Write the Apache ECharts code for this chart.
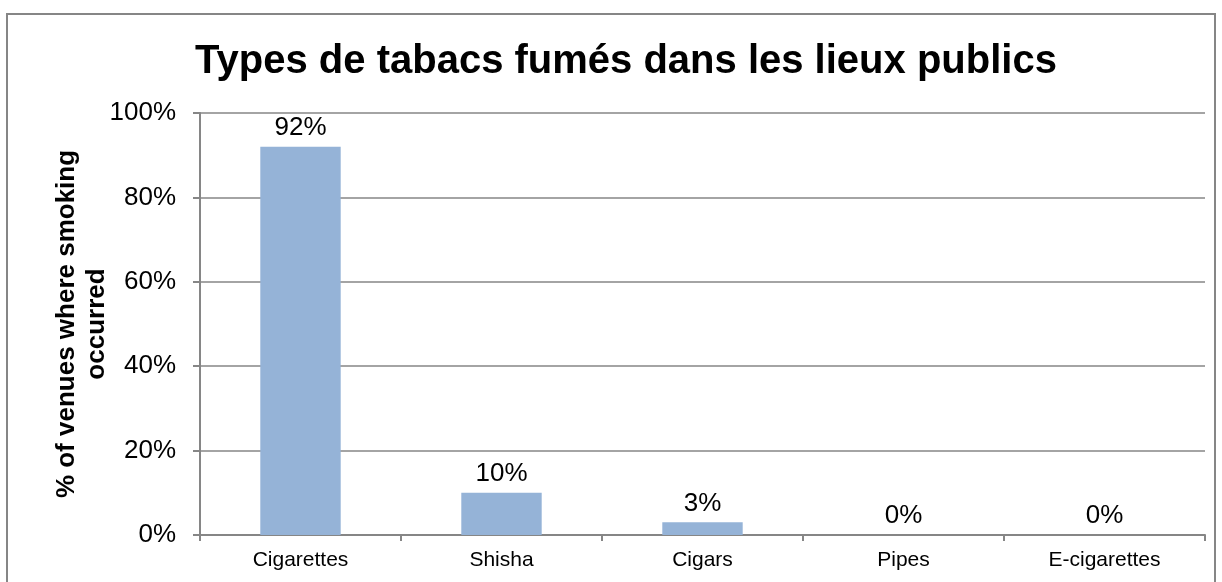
<!DOCTYPE html>
<html>
<head>
<meta charset="utf-8">
<script src="https://cdn.jsdelivr.net/npm/echarts@6/dist/echarts.min.js"></script>
<style>
  html, body { margin: 0; padding: 0; background: #fff; }
  #chart { width: 1222px; height: 582px; }
</style>
</head>
<body>
<div id="chart"></div>
<script>
const categories = ['Cigarettes', 'Shisha', 'Cigars', 'Pipes', 'E-cigarettes']
const venuePct = [92, 10, 3, 0, 0]
const yTicks = [0, 20, 40, 60, 80, 100]

const chart = echarts.init(document.getElementById('chart'))

const option = {
  animation: false,
  title: {
    text: 'Types de tabacs fumés dans les lieux publics',
    left: 621,
    top: 37,
    textAlign: 'center',
    textStyle: {
      fontFamily: 'Liberation Sans, Arial, sans-serif',
      fontSize: 40,
      fontWeight: 'bold',
      color: '#000'
    }
  },
  graphic: [{
    type: 'rect',
    shape: { x: 7, y: 14, width: 1208, height: 600 },
    style: { fill: 'none', stroke: '#868686', lineWidth: 2 },
    silent: true
  }],
  grid: {
    left: 200,
    right: 17,
    top: 113,
    bottom: 47
  },
  xAxis: {
    type: 'category',
    data: categories,
    axisLine: { lineStyle: { color: '#868686', width: 2 } },
    axisTick: { show: true, length: 6, alignWithLabel: false, lineStyle: { color: '#868686', width: 2 } },
    axisLabel: {
      color: '#000',
      fontFamily: 'Liberation Sans, Arial, sans-serif',
      fontSize: 21,
      margin: 15
    }
  },
  yAxis: {
    type: 'value',
    min: 0,
    max: 100,
    interval: 20,
    name: '% of venues where smoking\noccurred',
    nameLocation: 'middle',
    nameGap: 88,
    nameMoveOverlap: false,
    nameTextStyle: {
      color: '#000',
      fontFamily: 'Liberation Sans, Arial, sans-serif',
      fontSize: 26,
      fontWeight: 'bold',
      lineHeight: 30
    },
    axisLine: { show: true, lineStyle: { color: '#868686', width: 2 } },
    axisTick: { show: true, length: 7, lineStyle: { color: '#868686', width: 2 } },
    splitLine: { lineStyle: { color: '#868686', width: 1.5 } },
    axisLabel: {
      color: '#000',
      fontFamily: 'Liberation Sans, Arial, sans-serif',
      fontSize: 26,
      margin: 24,
      formatter: v => yTicks.includes(v) ? v + '%' : ''
    }
  },
  series: [{
    type: 'bar',
    data: venuePct,
    barWidth: '40%',
    itemStyle: { color: '#95B3D7' },
    label: {
      show: true,
      position: 'top',
      distance: 6,
      color: '#000',
      fontFamily: 'Liberation Sans, Arial, sans-serif',
      fontSize: 26,
      formatter: p => p.value + '%'
    }
  }]
}

chart.setOption(option)
</script>
</body>
</html>
